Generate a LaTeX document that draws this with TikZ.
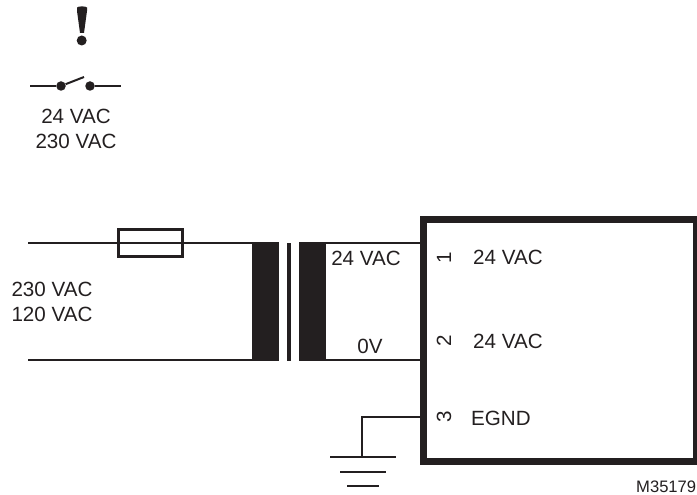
\documentclass[tikz,border=0pt]{standalone}
\usepackage{fontspec}
\setmainfont{Liberation Sans}
\definecolor{ink}{HTML}{231F20}
\tikzset{
  wire/.style={draw=ink,line width=2.4pt},
  thinwire/.style={draw=ink,line width=2pt},
  label/.style={inner sep=0pt,text=ink,font=\fontsize{20.6}{24}\selectfont},
  core/.style={fill=ink,draw=none,inner sep=0pt,minimum width=27pt,minimum height=119pt},
  contact/.style={circle,fill=ink,draw=none,inner sep=0pt,minimum size=9.5pt},
  devicebox/.style={draw=ink,line width=7pt,inner sep=0pt,minimum width=273pt,minimum height=242pt},
  fusebox/.style={draw=ink,line width=2.2pt,inner sep=0pt,minimum width=64pt,minimum height=27pt}
}
\begin{document}
\begin{tikzpicture}[x=1pt,y=-1pt]
\useasboundingbox (0,0) rectangle (697,495);
% warning sign
\fill[ink] (77,7.5) .. controls (78,6) and (86,6) .. (87,7.5) -- (87,11) -- (84,33) -- (80,33) -- (77,11) -- cycle;
\fill[ink] (81.7,40.5) circle (5);
% switch
\node[contact] (sa) at (61,86) {};
\node[contact] (sb) at (90,86) {};
\coordinate (sl) at (30,86);
\coordinate (sr) at (121,86);
\coordinate (st) at (84,77);
\draw[thinwire] (sl) -- (sa);
\draw[thinwire] (sa) -- (st);
\draw[thinwire] (sb) -- (sr);
\node[label] (t1) at (76,116) {24 VAC};
\node[label] (t2) at (76,141) {230 VAC};
% transformer
\node[core] (pc) at (265.5,301.5) {};
\node[core] (sc) at (312.5,301.5) {};
\node[fill=ink,draw=none,inner sep=0pt,minimum width=4pt,minimum height=118pt] (bar) at (289,302) {};
% device
\node[devicebox] (dev) at (559.5,340.5) {};
% mains
\coordinate (a1) at (28,243);
\coordinate (a2) at (28,360);
\node[fusebox] (fuse) at (150.5,243) {};
\draw[wire] (a1) -- (pc.north west |- a1);
\draw[wire] (a2) -- (pc.south west |- a2);
\draw[wire] (sc.east |- a1) -- (dev.west |- a1);
\draw[wire] (sc.east |- a2) -- (dev.west |- a2);
% ground
\coordinate (g0) at (362,417);
\coordinate (g1) at (362,457);
\coordinate (ga) at (330,457); \coordinate (gb) at (396,457);
\coordinate (gc) at (340,472); \coordinate (gd) at (386,472);
\coordinate (ge) at (347,486); \coordinate (gf) at (379,486);
\draw[wire] (dev.west |- g0) -- (g0) -- (g1);
\draw[wire] (ga) -- (gb);
\draw[wire] (gc) -- (gd);
\draw[wire] (ge) -- (gf);
% labels
\node[label] (l1) at (52,289) {230 VAC};
\node[label] (l2) at (52,314) {120 VAC};
\node[label] (l3) at (366,258) {24 VAC};
\node[label] (l4) at (370,346) {0V};
\node[label,rotate=90] (p1) at (444,258) {1};
\node[label,rotate=90] (p2) at (444,341) {2};
\node[label,rotate=90] (p3) at (444,417) {3};
\node[label,anchor=west] (d1) at (473,257) {24 VAC};
\node[label,anchor=west] (d2) at (473,341) {24 VAC};
\node[label,anchor=west] (d3) at (471,418) {EGND};
\node[label,anchor=west,font=\fontsize{16.6}{20}\selectfont] (code) at (636,487) {M35179};
\end{tikzpicture}
\end{document}
